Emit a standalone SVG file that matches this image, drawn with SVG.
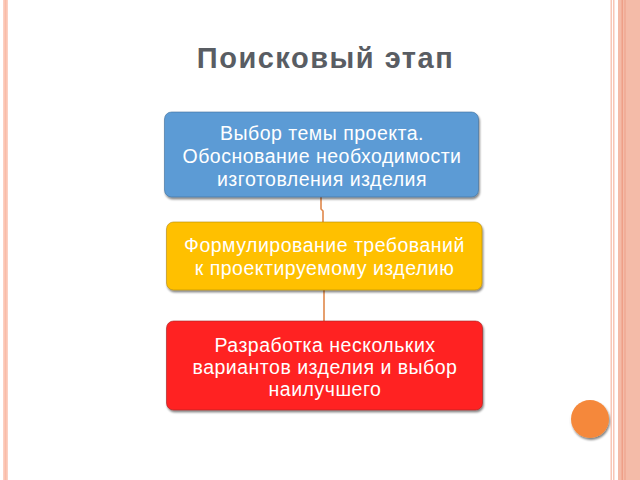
<svg xmlns="http://www.w3.org/2000/svg" width="640" height="480" viewBox="0 0 640 480">
<defs>
<style>
.t{font-family:"Liberation Sans",Arial,sans-serif;font-size:19.5px;letter-spacing:0.5px;fill:#ffffff;text-anchor:middle}
.title{font-family:"Liberation Sans",Arial,sans-serif;font-size:29px;letter-spacing:1.5px;font-weight:bold;fill:#595d63;text-anchor:middle}
.conn{fill:none;stroke:#e0884a;stroke-width:1.6}
</style>
<filter id="sh" x="-5%" y="-10%" width="110%" height="125%">
<feGaussianBlur in="SourceAlpha" stdDeviation="1"/>
<feOffset dx="0.5" dy="1.5" result="b"/>
<feComponentTransfer><feFuncA type="linear" slope="0.5"/></feComponentTransfer>
<feMerge><feMergeNode/><feMergeNode in="SourceGraphic"/></feMerge>
</filter>
</defs>
<rect width="640" height="480" fill="#ffffff"/>
<g id="border">
<rect x="3" y="0" width="5" height="480" fill="#fcd0c2"/>
<rect x="4.5" y="0" width="2" height="480" fill="#f9bca8"/>
<rect x="610.5" y="0" width="1.5" height="480" fill="#f8c6b6"/>
<rect x="613" y="0" width="1.5" height="480" fill="#f8c6b6"/>
<rect x="618" y="0" width="22" height="480" fill="#f4bba8"/>
<rect x="621.5" y="0" width="1.5" height="480" fill="#ee9f87"/>
<rect x="624.5" y="0" width="1" height="480" fill="#ee9f87"/>
</g>
<text class="title" x="325.5" y="68">Поисковый этап</text>
<g id="connectors">
<path class="conn" d="M321 197 V209 L323 211 V222"/>
<path class="conn" d="M324 290 V321"/>
</g>
<g id="node1">
<rect x="164.5" y="112" width="314" height="85" rx="7" fill="#5b9bd5" stroke="#41709c" stroke-width="0.6" filter="url(#sh)"/>
<text class="t" x="322" y="140">Выбор темы проекта.</text>
<text class="t" x="322" y="163">Обоснование необходимости</text>
<text class="t" x="322" y="186">изготовления изделия</text>
</g>
<g id="node2">
<rect x="166.5" y="222" width="315.5" height="68" rx="7" fill="#ffc000" stroke="#b38a10" stroke-width="0.6" filter="url(#sh)"/>
<text class="t" x="324.5" y="252">Формулирование требований</text>
<text class="t" x="324.5" y="275">к проектируемому изделию</text>
</g>
<g id="node3">
<rect x="166.5" y="321" width="316" height="89" rx="7" fill="#ff2424" stroke="#a52020" stroke-width="0.6" filter="url(#sh)"/>
<text class="t" x="325" y="352">Разработка нескольких</text>
<text class="t" x="325" y="374">вариантов изделия и выбор</text>
<text class="t" x="325" y="396">наилучшего</text>
</g>
<g id="dot">
<circle cx="590" cy="419" r="19" fill="#f5883a" filter="url(#sh)"/>
</g>
</svg>
